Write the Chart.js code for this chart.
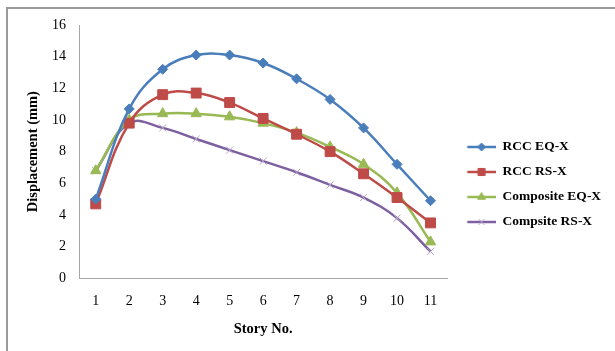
<!DOCTYPE html>
<html>
<head>
<meta charset="utf-8">
<script src="https://cdn.jsdelivr.net/npm/chart.js@4.4.1/dist/chart.umd.min.js"></script>
<style>
  html, body { margin: 0; padding: 0; background: #fff; }
  #wrap { position: relative; width: 615px; height: 351px; overflow: hidden; }
  #frame { position: absolute; left: 6px; top: 7px; width: 640px; height: 400px;
           border-left: 2px solid #9a9a9a; border-top: 2px solid #9a9a9a; pointer-events: none; }
  canvas { position: absolute; left: 0; top: 0; }
</style>
</head>
<body>
<div id="wrap">
  <canvas id="chart" width="615" height="351"></canvas>
  <div id="frame"></div>
</div>
<script>
const stories = ['1','2','3','4','5','6','7','8','9','10','11'];
const rccEq   = [5.0, 10.7, 13.2, 14.1, 14.1, 13.6, 12.6, 11.3, 9.5, 7.2, 4.9];
const rccRs   = [4.7, 9.8, 11.6, 11.7, 11.1, 10.1, 9.1, 8.0, 6.6, 5.1, 3.5];
const compEq  = [6.8, 10.0, 10.4, 10.4, 10.2, 9.8, 9.2, 8.3, 7.2, 5.4, 2.3];
const compRs  = [6.8, 9.8, 9.5, 8.8, 8.1, 7.4, 6.7, 5.9, 5.1, 3.8, 1.7];
const yMin = 0, yMax = 16, yStep = 2;

const blue   = '#4a7ebb';
const red    = '#be4b48';
const green  = '#98b954';
const purple = '#7d60a0';
const lilac  = '#b3a2c7';

const serif = "'Liberation Serif', 'Times New Roman', serif";

// line + marker picture for the legend; left part kept blank as a gap from the plot
const iconW = 37, iconGap = 8.5;
function legendIcon(line, style, fill, stroke, radius) {
  const c = document.createElement('canvas');
  c.width = iconW; c.height = 14;
  const ctx = c.getContext('2d');
  ctx.strokeStyle = line;
  ctx.lineWidth = 2.5;
  ctx.beginPath();
  ctx.moveTo(iconGap, 7); ctx.lineTo(iconW, 7);
  ctx.stroke();
  ctx.fillStyle = fill;
  ctx.strokeStyle = stroke;
  ctx.lineWidth = 1;
  Chart.helpers.drawPoint(ctx, { pointStyle: style, radius: radius, rotation: 0, borderWidth: 1 },
    iconGap + (iconW - iconGap) / 2, 7);
  return c;
}

const series = [
  { label: 'RCC EQ-X', data: rccEq, color: blue, style: 'rectRot', fill: blue, border: blue, r: 5, lr: 4 },
  { label: 'RCC RS-X', data: rccRs, color: red, style: 'rect', fill: red, border: red, r: 7, lr: 5 },
  { label: 'Composite EQ-X', data: compEq, color: green, style: 'triangle', fill: green, border: green, r: 6, lr: 4.5 },
  { label: 'Compsite RS-X', data: compRs, color: purple, style: 'crossRot', fill: lilac, border: lilac, r: 5, lr: 4 }
];

const icons = series.map(s => legendIcon(s.color, s.style, s.fill, s.border, s.lr));

// legend sits a touch lower than centre; widen its clip box so long labels are not cut
const moveLegend = {
  id: 'moveLegend',
  afterLayout(chart) {
    const lg = chart.legend;
    lg.top += 3; lg.bottom += 3;
    lg.right += 30; lg.width += 30;
  }
};

new Chart(document.getElementById('chart'), {
  type: 'line',
  data: {
    labels: stories,
    datasets: series.map(s => ({
      label: s.label,
      data: s.data,
      borderColor: s.color,
      backgroundColor: s.fill,
      borderWidth: 2.5,
      pointStyle: s.style,
      pointRadius: s.r,
      pointHoverRadius: s.r,
      pointBackgroundColor: s.fill,
      pointBorderColor: s.border,
      pointBorderWidth: 1,
      tension: 0.4,
      fill: false
    }))
  },
  plugins: [moveLegend],
  options: {
    responsive: false,
    animation: false,
    layout: { padding: { left: 25, top: 25, right: 27, bottom: 13 } },
    plugins: {
      tooltip: { enabled: false },
      legend: {
        position: 'right',
        labels: {
          usePointStyle: true,
          pointStyleWidth: iconW,
          padding: 11.5,
          color: '#000',
          font: { family: serif, size: 13.5, weight: 'bold' },
          generateLabels(chart) {
            const items = Chart.defaults.plugins.legend.labels.generateLabels(chart);
            items.forEach((it, i) => { it.pointStyle = icons[i]; });
            return items;
          }
        }
      }
    },
    scales: {
      x: {
        offset: true,
        grid: { display: false, drawTicks: false },
        border: { display: true, color: '#a6a6a6', width: 1 },
        ticks: { color: '#000', padding: 15, font: { family: serif, size: 14 } },
        title: {
          display: true, text: 'Story No.', color: '#000',
          padding: { top: -4.5, bottom: 0 },
          font: { family: serif, size: 14.5, weight: 'bold' }
        }
      },
      y: {
        min: yMin, max: yMax,
        grid: { display: false, drawTicks: false },
        border: { display: true, color: '#a6a6a6', width: 1 },
        ticks: { stepSize: yStep, color: '#000', padding: 13, font: { family: serif, size: 14 } },
        title: {
          display: true, text: 'Displacement (mm)', color: '#000',
          padding: { top: 0, bottom: -3.4 },
          font: { family: serif, size: 14.5, weight: 'bold' }
        }
      }
    }
  }
});
</script>
</body>
</html>
